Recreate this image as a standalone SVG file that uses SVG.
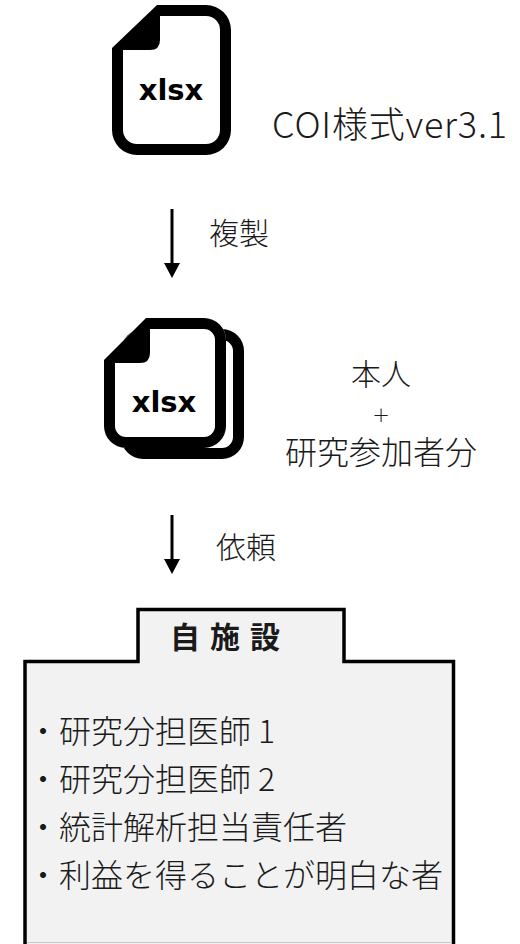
<svg xmlns="http://www.w3.org/2000/svg" width="520" height="944" viewBox="0 0 520 944">
  <style>
    .lbl { font-family: "Noto Sans CJK JP", "Noto Sans", sans-serif; font-weight: 300; fill: #1a1a1a; }
    .ico { font-family: "DejaVu Sans", "Noto Sans", sans-serif; font-weight: bold; font-size: 29px; fill: #000; text-anchor: middle; }
    .ring { fill: #000; fill-rule: evenodd; }
    .conn { stroke: #000; stroke-width: 3; fill: none; }
  </style>
  <defs>
    <marker id="ah" markerUnits="userSpaceOnUse" viewBox="0 0 15 16" markerWidth="15" markerHeight="16" refX="3" refY="8" orient="auto">
      <path d="M0,0 L15,8 L0,16 Z" fill="#000"/>
    </marker>
  </defs>
  <rect width="520" height="944" fill="#fff"/>

  <g id="file-original">
    <path fill="#fff" d="M112,48 L157,5 L206,5 A25,25 0 0 1 231,30 L231,130 A25,25 0 0 1 206,155 L137,155 A25,25 0 0 1 112,130 Z"/>
    <path class="ring" d="M112,48 L157,5 L206,5 A25,25 0 0 1 231,30 L231,130 A25,25 0 0 1 206,155 L137,155 A25,25 0 0 1 112,130 Z M123,50 L150,50 Q160,50 160,40 L160,16 L206,16 A14,14 0 0 1 220,30 L220,130 A14,14 0 0 1 206,144 L137,144 A14,14 0 0 1 123,130 Z"/>
    <text class="ico" x="171" y="100">xlsx</text>
    <text class="lbl" x="272" y="138" font-size="36" letter-spacing="0.8">COI様式ver3.1</text>
  </g>

  <g id="file-copies">
    <path class="ring" d="M143,329 L222,329 A22,22 0 0 1 244,351 L244,437 A22,22 0 0 1 222,459 L143,459 A22,22 0 0 1 121,437 L121,351 A22,22 0 0 1 143,329 Z M143,340 L222,340 A11,11 0 0 1 233,351 L233,437 A11,11 0 0 1 222,448 L143,448 A11,11 0 0 1 132,437 L132,351 A11,11 0 0 1 143,340 Z"/>
    <path fill="#fff" d="M104,360 L146,318 L204,318 A22,22 0 0 1 226,340 L226,426 A22,22 0 0 1 204,448 L126,448 A22,22 0 0 1 104,426 Z"/>
    <path class="ring" d="M104,360 L146,318 L204,318 A22,22 0 0 1 226,340 L226,426 A22,22 0 0 1 204,448 L126,448 A22,22 0 0 1 104,426 Z M115,363 L140,363 Q150,363 150,353 L150,329 L204,329 A11,11 0 0 1 215,340 L215,426 A11,11 0 0 1 204,437 L126,437 A11,11 0 0 1 115,426 Z"/>
    <text class="ico" x="164" y="412">xlsx</text>
    <text class="lbl" x="381" y="385" font-size="30" text-anchor="middle">本人</text>
    <text x="381" y="421.5" font-family="DejaVu Sans, sans-serif" font-weight="200" font-size="21" fill="#1a1a1a" text-anchor="middle">+</text>
    <text class="lbl" x="381" y="464" font-size="32" text-anchor="middle">研究参加者分</text>
  </g>

  <g id="connectors">
    <line class="conn" x1="172" y1="209" x2="172" y2="266" marker-end="url(#ah)"/>
    <text class="lbl" x="209" y="244" font-size="30">複製</text>
    <line class="conn" x1="172" y1="515" x2="172" y2="562" marker-end="url(#ah)"/>
    <text class="lbl" x="216" y="558" font-size="30">依頼</text>
  </g>

  <g id="own-facility">
    <path d="M25,948 L25,661.5 L138,661.5 L138,609.5 L344,609.5 L344,661.5 L453.5,661.5 L453.5,948" fill="#f2f2f2" stroke="#000" stroke-width="3.5"/>
    <line x1="27" y1="942.5" x2="452" y2="942.5" stroke="#c8c8c8" stroke-width="1"/>
    <text x="170" y="648" font-family="Noto Sans CJK JP, sans-serif" font-weight="bold" font-size="30" letter-spacing="10" fill="#1a1a1a">自施設</text>
    <text class="lbl" font-size="32" x="27" y="743">・研究分担医師 1</text>
    <text class="lbl" font-size="32" x="27" y="791">・研究分担医師 2</text>
    <text class="lbl" font-size="32" x="27" y="839">・統計解析担当責任者</text>
    <text class="lbl" font-size="32" x="27" y="887">・利益を得ることが明白な者</text>
  </g>
</svg>
